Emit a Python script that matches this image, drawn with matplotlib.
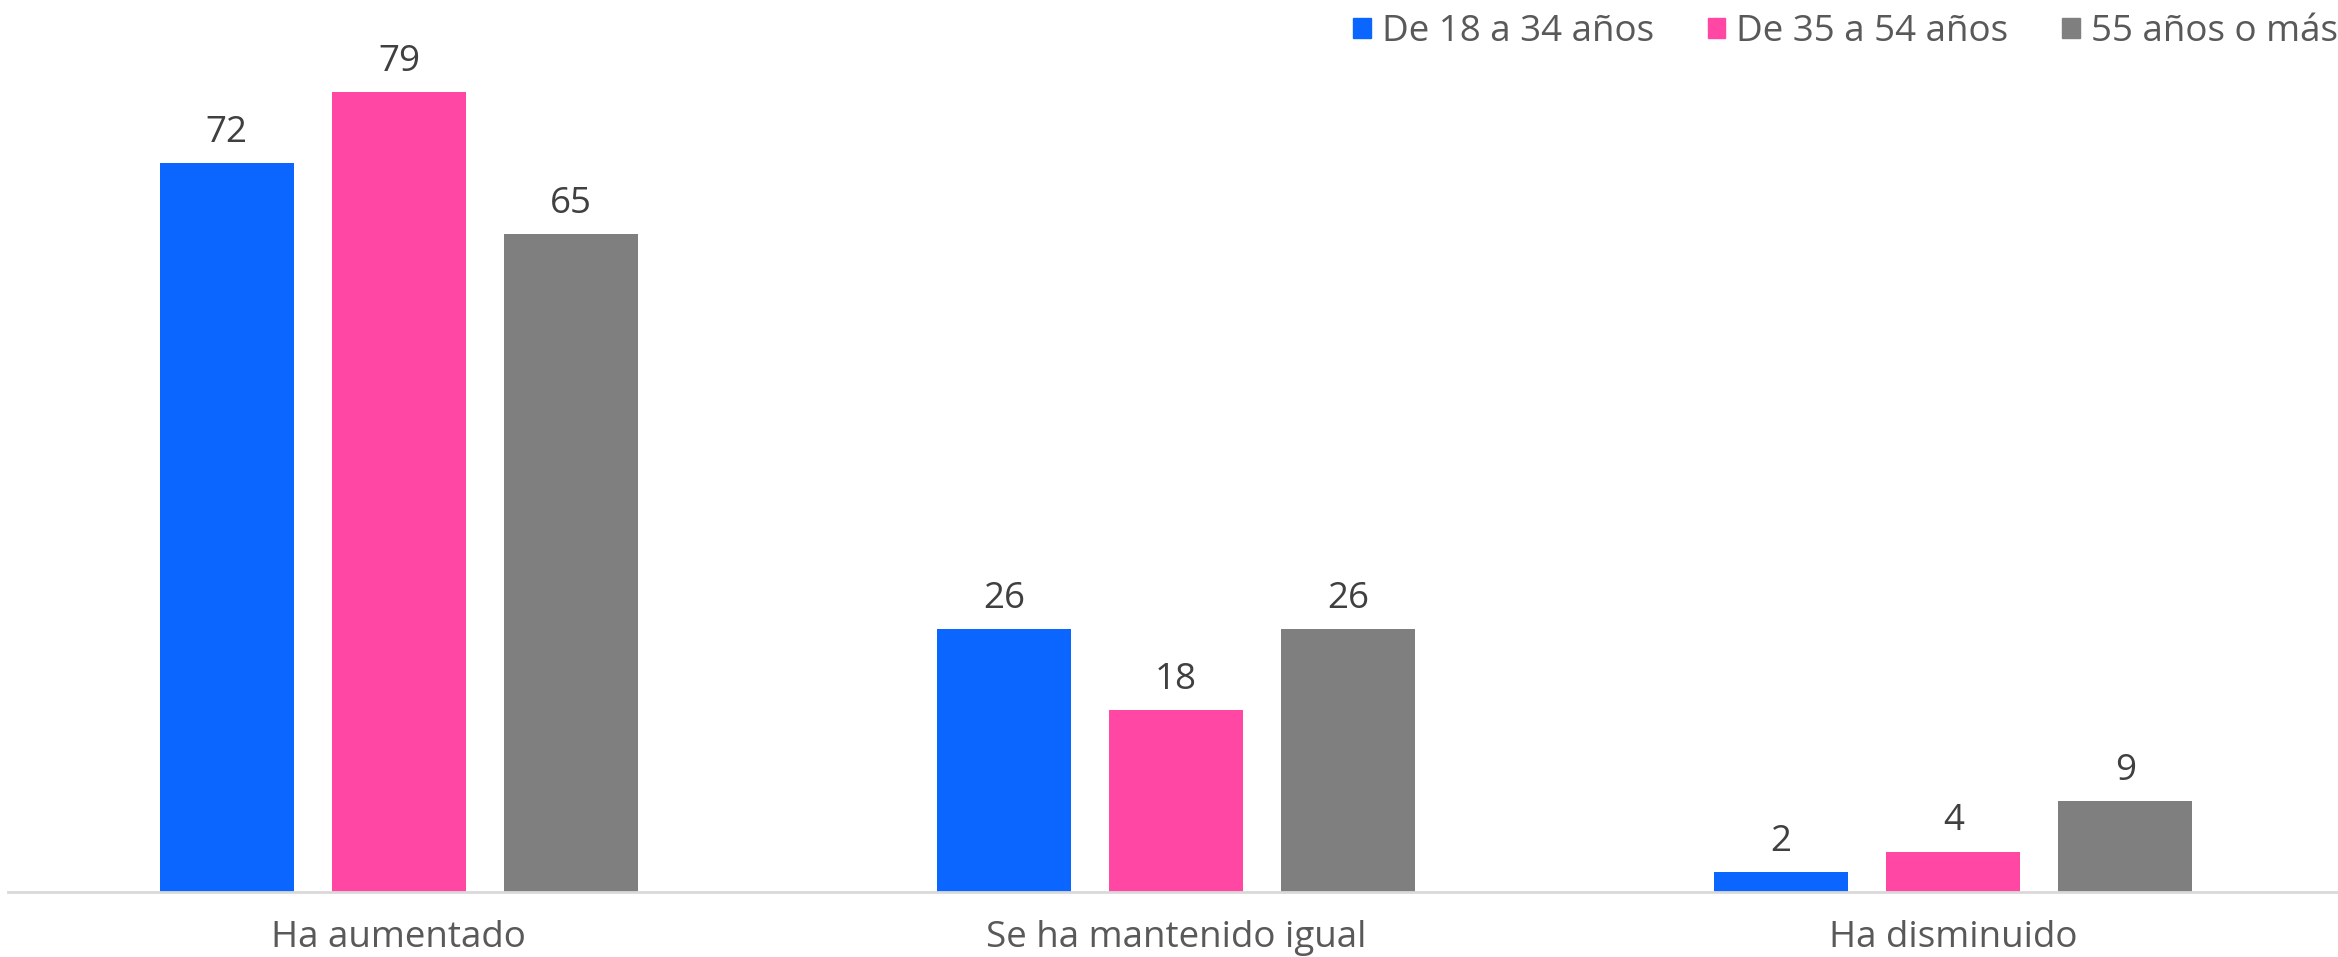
import numpy as np
import matplotlib.pyplot as plt
from matplotlib.patches import Patch

# data
categories = ['Ha aumentado', 'Se ha mantenido igual', 'Ha disminuido']
series = ['De 18 a 34 años', 'De 35 a 54 años', '55 años o más']
age_18_34 = [72, 26, 2]
age_35_54 = [79, 18, 4]
age_55_plus = [65, 26, 9]

colors = ['#0A66FF', '#FF47A3', '#7F7F7F']

plt.rcParams['font.family'] = ['Open Sans', 'DejaVu Sans']
fs = 26.5

fig = plt.figure(figsize=(23.38, 9.57), dpi=100)
ax = fig.add_axes([0.0034, 0.0679, 0.9966, 0.9321])

x = np.arange(len(categories))
width = 0.1725
step = 0.2214
for i, (vals, col) in enumerate(zip([age_18_34, age_35_54, age_55_plus], colors)):
    bars = ax.bar(x + (i - 1) * step, vals, width=width, color=col, zorder=2)
    for b, v in zip(bars, vals):
        ax.text(b.get_x() + b.get_width() / 2, v + 2.1, str(v), ha='center', va='baseline',
                fontsize=fs, color='#404040')

ax.set_xlim(-0.503, 2.495)
ax.set_ylim(0, 88.1)
for s in ['top', 'right', 'left']:
    ax.spines[s].set_visible(False)
ax.spines['bottom'].set_color('#D9D9D9')
ax.spines['bottom'].set_linewidth(2)
ax.set_yticks([])
ax.set_xticks(x)
ax.set_xticklabels(categories, fontsize=fs, color='#595959')
ax.tick_params(axis='x', length=0, pad=20.5)

handles = [Patch(color=c) for c in colors]
fig.legend(handles, series, loc='upper right', bbox_to_anchor=(1.014, 1.02), ncol=3,
           frameon=False, fontsize=fs, labelcolor='#595959',
           handlelength=0.48, handleheight=0.48, handletextpad=0.3, columnspacing=1.45)

fig.savefig('out.png', dpi=100)
